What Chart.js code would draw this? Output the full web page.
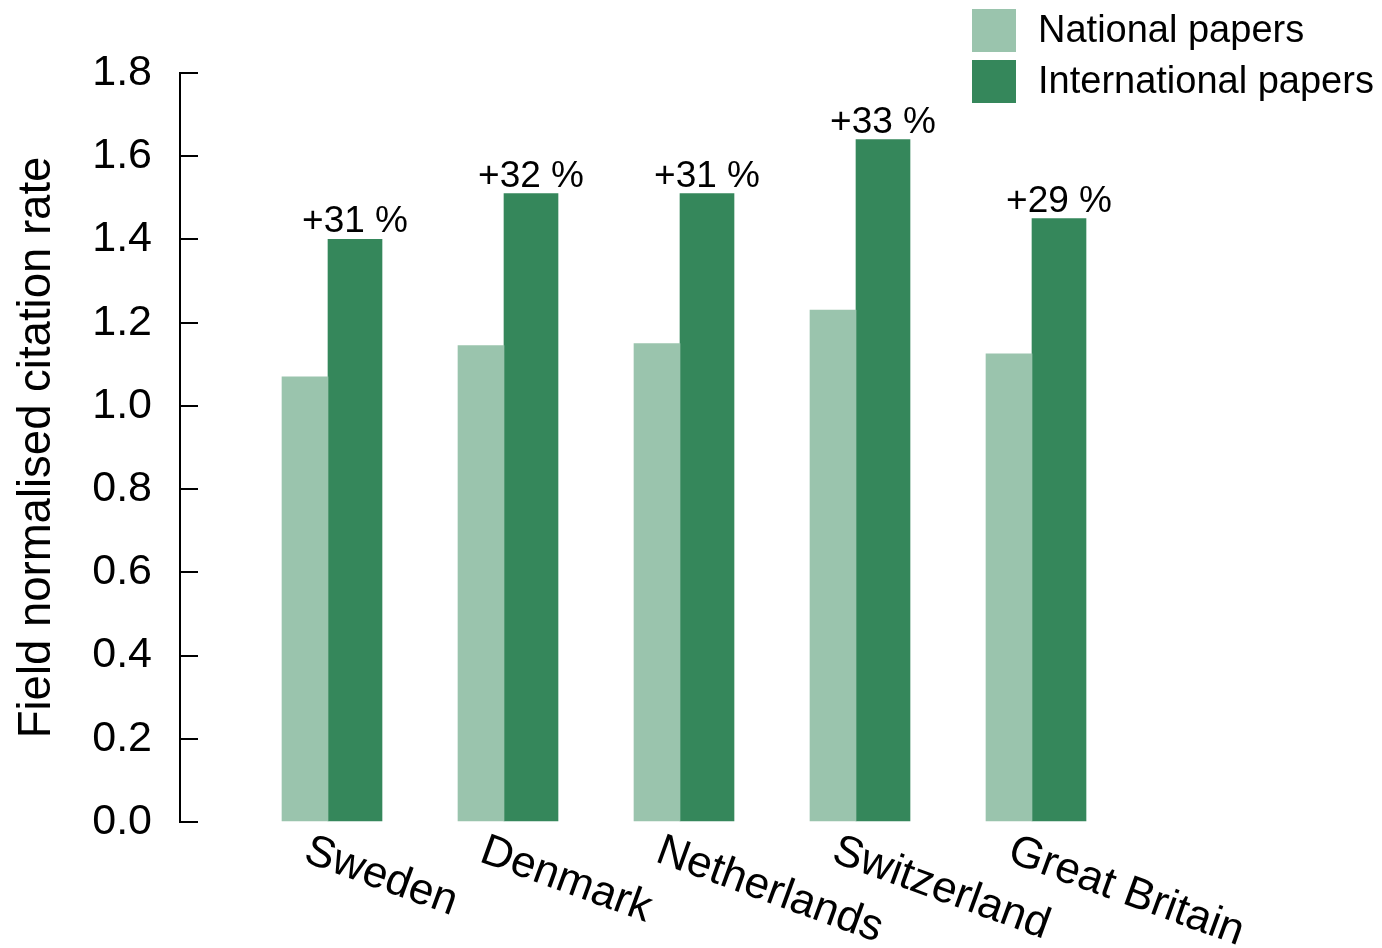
<!DOCTYPE html>
<html>
<head>
<meta charset="utf-8">
<script src="https://cdn.jsdelivr.net/npm/chart.js@4/dist/chart.umd.min.js"></script>
<style>
  body { margin: 0; background: #fff; overflow: hidden; }
  #wrap { width: 1382px; height: 948px; position: relative; }
</style>
</head>
<body>
<div id="wrap"><canvas id="myChart"></canvas></div>
<script>
// datos del grafico
const countries = ["Sweden", "Denmark", "Netherlands", "Switzerland", "Great Britain"];
const nationalPapers = [1.07, 1.145, 1.15, 1.23, 1.125];
const internationalPapers = [1.40, 1.51, 1.51, 1.64, 1.45];
const gainLabels = ["+31 %", "+32 %", "+31 %", "+33 %", "+29 %"];
const yTicks = [0, 0.2, 0.4, 0.6, 0.8, 1.0, 1.2, 1.4, 1.6, 1.8];

const FONT = '"Liberation Sans", Arial, Helvetica, sans-serif';
Chart.defaults.font.family = FONT;
Chart.defaults.color = "#000";

// ETIQUETAS, LEYENDA Y PORCENTAJES
const extras = {
  id: "extras",
  afterDraw(chart) {
    const ctx = chart.ctx;
    const x = chart.scales.x;
    const area = chart.chartArea;

    // porcentajes sobre las barras internacionales
    const meta = chart.getDatasetMeta(1);
    ctx.save();
    ctx.fillStyle = "#000";
    ctx.font = "37px " + FONT;
    ctx.textAlign = "center";
    ctx.textBaseline = "alphabetic";
    meta.data.forEach((bar, i) => {
      ctx.fillText(gainLabels[i], bar.x, bar.y - 7);
    });
    ctx.restore();

    // nombres de paises girados
    ctx.save();
    ctx.fillStyle = "#000";
    ctx.font = "44px " + FONT;
    ctx.textAlign = "left";
    ctx.textBaseline = "alphabetic";
    countries.forEach((name, i) => {
      ctx.save();
      ctx.translate(x.getPixelForValue(i) - 26, area.bottom + 39);
      ctx.rotate(20 * Math.PI / 180);
      ctx.fillText(name, 0, 0);
      ctx.restore();
    });
    ctx.restore();

    // leyenda arriba a la derecha
    ctx.save();
    ctx.font = "38px " + FONT;
    ctx.textAlign = "left";
    ctx.textBaseline = "middle";
    chart.data.datasets.forEach((ds, i) => {
      ctx.fillStyle = ds.backgroundColor;
      ctx.fillRect(972, 9 + i * 51, 44, 43);
      ctx.fillStyle = "#000";
      ctx.fillText(ds.label, 1038, 32 + i * 51);
    });
    ctx.restore();
  }
};

const toPoints = arr => arr.map((v, i) => ({ x: i, y: v }));

var ctx = document.getElementById("myChart").getContext("2d");
var myChart = new Chart(ctx, {
  type: "bar",
  data: {
    datasets: [
      {
        label: "National papers",
        data: toPoints(nationalPapers),
        backgroundColor: "#9ac4ad",
        borderWidth: 0,
        barThickness: 46,
      },
      {
        label: "International papers",
        data: toPoints(internationalPapers),
        backgroundColor: "#35875b",
        borderWidth: 0,
        barThickness: 54,
      },
    ],
  },
  options: {
    responsive: true,
    maintainAspectRatio: false,
    animation: false,
    layout: { padding: { left: 0, top: 73, right: 252, bottom: 0 } },
    plugins: {
      legend: { display: false },
      tooltip: { enabled: false },
    },
    scales: {
      x: {
        type: "linear",
        offset: false,
        min: -148 / 176,
        max: 802 / 176,
        grid: { display: false },
        border: { display: false },
        ticks: { display: false },
        afterFit: s => { s.height = 126; },
      },
      y: {
        min: 0,
        max: 1.8,
        afterBuildTicks: s => { s.ticks = yTicks.map(v => ({ value: v })); },
        ticks: {
          padding: 46,
          font: { size: 43 },
          color: "#000",
          callback: v => Number(v).toFixed(1),
        },
        grid: {
          drawOnChartArea: false,
          tickLength: -18,
          color: "#000",
          lineWidth: 2,
        },
        border: { display: true, color: "#000", width: 2 },
        title: {
          display: true,
          text: "Field normalised citation rate",
          font: { size: 45.5 },
          color: "#000",
          padding: { top: 10, bottom: 0 },
        },
        afterFit: s => { s.width = 180; },
      },
    },
  },
  plugins: [extras],
});
</script>
</body>
</html>
